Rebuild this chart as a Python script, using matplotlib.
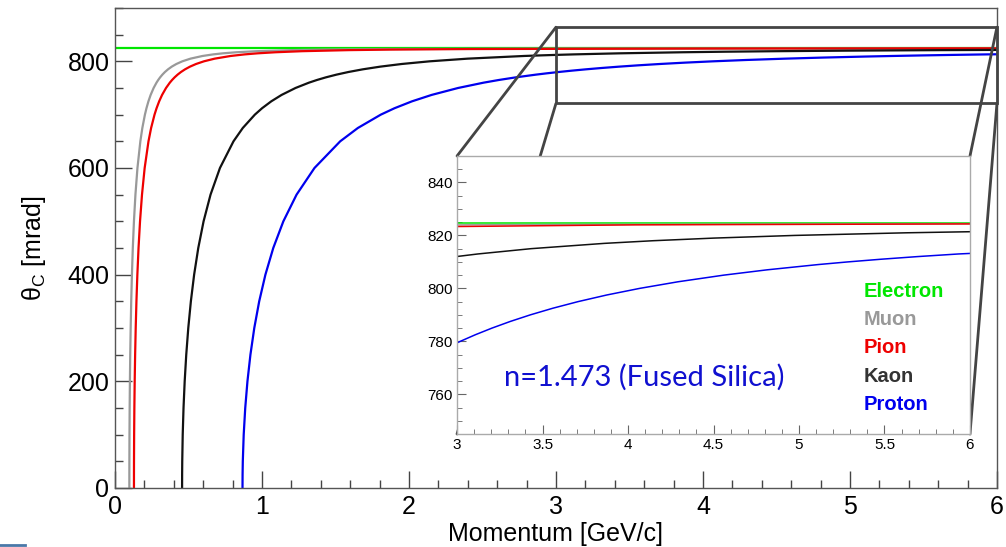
import matplotlib
matplotlib.use("Agg")
import matplotlib.pyplot as plt
from matplotlib.lines import Line2D
from matplotlib.patches import Rectangle, ConnectionPatch
from matplotlib.ticker import MultipleLocator, FormatStrFormatter

plt.rcParams['font.family'] = ['Liberation Sans', 'DejaVu Sans']

# momentum [GeV/c] vs Cherenkov angle [mrad]
electron_p = [0.0, 6.0]
electron_theta = [824.55, 824.55]

muon_p = [0.09769, 0.09775, 0.09792, 0.09861, 0.09978, 0.10148, 0.10376, 0.10672,
          0.11048, 0.11524, 0.12126, 0.12899, 0.13910, 0.15283, 0.17253, 0.18607,
          0.20362, 0.21410, 0.22756, 0.24258, 0.26284, 0.28244, 0.29406, 0.30724,
          0.32237, 0.33999, 0.36087, 0.38613, 0.41756, 0.45815, 0.51348, 0.59525,
          0.66815, 0.73481, 0.82647, 0.96405, 1.20528, 1.42240, 1.82369, 3.05991, 6.0]
muon_theta = [0, 25, 50, 100, 150, 200, 250, 300,
              350, 400, 450, 500, 550, 600, 650, 675,
              700, 712, 725, 737, 750, 760, 765, 770,
              775, 780, 785, 790, 795, 800, 805, 810,
              813, 815, 817, 819, 821, 822, 823, 824, 824.45]

pion_p = [0.12905, 0.12912, 0.12935, 0.13026, 0.13181, 0.13405, 0.13706, 0.14097,
          0.14594, 0.15222, 0.16018, 0.17038, 0.18375, 0.20188, 0.22790, 0.24579,
          0.26897, 0.28281, 0.30059, 0.32044, 0.34719, 0.37309, 0.38843, 0.40584,
          0.42583, 0.44911, 0.47668, 0.51005, 0.55157, 0.60519, 0.67827, 0.78629,
          0.88258, 0.97064, 1.09173, 1.27345, 1.59210, 1.87889, 2.40898, 4.04195, 6.0]
pion_theta = [0, 25, 50, 100, 150, 200, 250, 300,
              350, 400, 450, 500, 550, 600, 650, 675,
              700, 712, 725, 737, 750, 760, 765, 770,
              775, 780, 785, 790, 795, 800, 805, 810,
              813, 815, 817, 819, 821, 822, 823, 824, 824.35]

kaon_p = [0.45648, 0.45674, 0.45754, 0.46076, 0.46624, 0.47417, 0.48483, 0.49865,
          0.51623, 0.53845, 0.56660, 0.60269, 0.64997, 0.71410, 0.80614, 0.86942,
          0.95144, 1.00040, 1.06327, 1.13348, 1.22811, 1.31972, 1.37399, 1.43557,
          1.50630, 1.58863, 1.68616, 1.80420, 1.95108, 2.14072, 2.39923, 2.78133,
          2.88227, 2.99494, 3.12194, 3.43343, 3.86174, 4.14623, 4.50456, 4.97446,
          5.63173, 6.0]
kaon_theta = [0, 25, 50, 100, 150, 200, 250, 300,
              350, 400, 450, 500, 550, 600, 650, 675,
              700, 712, 725, 737, 750, 760, 765, 770,
              775, 780, 785, 790, 795, 800, 805, 810,
              811, 812, 813, 815, 817, 818, 819, 820,
              821, 821.4]

proton_p = [0.86753, 0.86803, 0.86955, 0.87566, 0.88608, 0.90114, 0.92142, 0.94768,
            0.98109, 1.02331, 1.07682, 1.14541, 1.23525, 1.35714, 1.53206, 1.65231,
            1.80820, 1.90124, 2.02073, 2.15416, 2.33401, 2.50811, 2.61125, 2.72829,
            2.86271, 2.93779, 3.01918, 3.10767, 3.20453, 3.31096, 3.42885, 3.56020,
            3.70799, 3.87559, 4.06841, 4.29301, 4.55971, 4.81258, 5.11296, 5.28587,
            5.47771, 5.69184, 5.93321, 6.0]
proton_theta = [0, 25, 50, 100, 150, 200, 250, 300,
                350, 400, 450, 500, 550, 600, 650, 675,
                700, 712, 725, 737, 750, 760, 765, 770,
                775, 777.5, 780, 782.5, 785, 787.5, 790, 792.5,
                795, 797.5, 800, 802.5, 805, 807, 809, 810,
                811, 812, 813, 813.2]

names = ["Electron", "Muon", "Pion", "Kaon", "Proton"]
colors = ["#00e600", "#999999", "#ee0000", "#111111", "#0000ee"]
label_colors = ["#00e600", "#999999", "#ee0000", "#333333", "#0000ee"]
series = [(electron_p, electron_theta), (muon_p, muon_theta), (pion_p, pion_theta),
          (kaon_p, kaon_theta), (proton_p, proton_theta)]

fig = plt.figure(figsize=(10.06, 5.47), dpi=100)
ax = fig.add_axes([0.1143, 0.1079, 0.8767, 0.8775])
ax.set_zorder(0)

for (p, th), c in zip(series, colors):
    ax.plot(p, th, color=c, lw=1.6)

ax.set_xlim(0, 6)
ax.set_ylim(0, 900)
ax.xaxis.set_major_locator(MultipleLocator(1))
ax.xaxis.set_minor_locator(MultipleLocator(0.2))
ax.yaxis.set_major_locator(MultipleLocator(200))
ax.yaxis.set_minor_locator(MultipleLocator(50))
ax.tick_params(which='both', direction='in', top=False, right=False,
               color='#444444', labelsize=18)
ax.tick_params(which='major', length=12, width=1)
ax.tick_params(which='minor', length=6, width=1)
ax.tick_params(axis='x', pad=5)
ax.tick_params(axis='y', pad=4)
for s in ax.spines.values():
    s.set_color('#555555')
    s.set_linewidth(1)
ax.set_xlabel("Momentum [GeV/c]", fontsize=18, labelpad=2)
ax.set_ylabel("θ$_\\mathregular{C}$ [mrad]", fontsize=18, labelpad=14)

# zoom box on the main plot
ax.add_patch(Rectangle((3, 721), 3, 143, fill=False, ec='#444444', lw=2,
                       clip_on=False, zorder=5))

# inset
axin = fig.add_axes([0.4543, 0.2066, 0.5099, 0.5082])
axin.set_zorder(3)
for (p, th), c in zip(series, colors):
    axin.plot(p, th, color=c, lw=1.1)
axin.set_xlim(3, 6)
axin.set_ylim(745, 850)
axin.xaxis.set_major_locator(MultipleLocator(0.5))
axin.xaxis.set_minor_locator(MultipleLocator(0.1))
axin.xaxis.set_major_formatter(FormatStrFormatter('%g'))
axin.yaxis.set_major_locator(MultipleLocator(20))
axin.yaxis.set_minor_locator(MultipleLocator(5))
axin.tick_params(which='both', direction='in', top=False, right=False,
                 color='#666666', labelsize=11, pad=3)
axin.tick_params(which='major', length=6.5)
axin.tick_params(which='minor', length=3.5)
for s in axin.spines.values():
    s.set_color('#aaaaaa')
    s.set_linewidth(1)

# connector lines from zoom box corners to inset corners
corners = [((3, 864), (0, 1)), ((3, 721), (0, 0)), ((6, 864), (1, 1)), ((6, 721), (1, 0))]
for a, b in corners:
    con = ConnectionPatch(xyA=a, coordsA=ax.transData, xyB=b, coordsB=axin.transAxes,
                          color='#444444', lw=2, zorder=2)
    fig.add_artist(con)

# particle labels
label_y = [0.468, 0.415, 0.364, 0.311, 0.260]
for name, c, y in zip(names, label_colors, label_y):
    fig.text(0.858, y, name, color=c, fontsize=14.5, fontweight='bold', va='center',
             zorder=10)

fig.text(0.501, 0.311, "n=1.473 (Fused Silica)", color='#1010d0', fontsize=21,
         family=['Lato', 'DejaVu Sans'], va='center', zorder=10)

# small decoration at bottom left
fig.add_artist(Line2D([0, 0.025], [0.0037, 0.0037], color='#4a78a8', lw=2,
                      transform=fig.transFigure))

fig.savefig("out.png", dpi=100)
